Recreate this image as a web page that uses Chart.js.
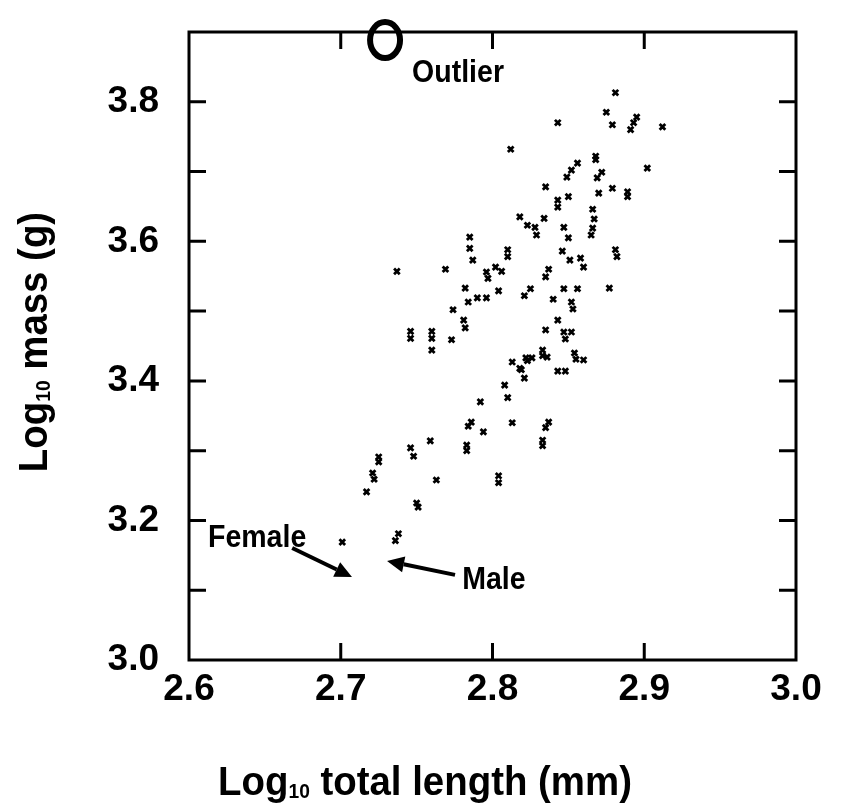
<!DOCTYPE html>
<html lang="en">
<head>
  <meta charset="UTF-8" />
  <title>Log mass vs log total length</title>
  <script src="https://cdn.jsdelivr.net/npm/chart.js"></script>
  <style>
    html, body { margin: 0; padding: 0; background: #fff; }
    #wrap { width: 850px; height: 810px; }
  </style>
</head>
<body>
  <div id="wrap"><canvas id="massChart"></canvas></div>

  <script>
    // log10 total length (mm) and log10 mass (g)
    const lengthLog = [
      2.812, 2.818, 2.785, 2.785, 2.787, 2.810, 2.810, 2.802, 2.806, 2.796,
      2.797, 2.769, 2.737, 2.782, 2.804, 2.790, 2.796, 2.784, 2.774,
      2.881, 2.875, 2.879, 2.895, 2.893, 2.891, 2.912, 2.843, 2.868, 2.868,
      2.856, 2.852, 2.849, 2.872, 2.869, 2.902, 2.835, 2.879, 2.889, 2.889,
      2.870, 2.850, 2.843, 2.843, 2.866, 2.867, 2.823, 2.828, 2.834, 2.829,
      2.847, 2.850, 2.866, 2.865, 2.881, 2.882, 2.846, 2.851, 2.858, 2.860,
      2.837, 2.835, 2.825, 2.847, 2.856, 2.877, 2.852, 2.853, 2.821, 2.840,
      2.781, 2.782, 2.746, 2.746, 2.760, 2.760, 2.773, 2.760, 2.813, 2.818,
      2.808, 2.810, 2.792, 2.813, 2.786, 2.784, 2.794, 2.759, 2.783, 2.783,
      2.746, 2.748, 2.725, 2.725, 2.721, 2.722, 2.763, 2.804, 2.804, 2.717,
      2.750, 2.751, 2.738, 2.736, 2.701,
      2.843, 2.835, 2.847, 2.852, 2.848, 2.833, 2.833, 2.836, 2.822, 2.826,
      2.823, 2.819, 2.821, 2.854, 2.855, 2.860, 2.843, 2.848, 2.837, 2.835,
      2.833, 2.833
    ];
    const massLog = [
      3.732, 3.635, 3.606, 3.590, 3.573, 3.588, 3.578, 3.563, 3.557, 3.556,
      3.547, 3.560, 3.557, 3.533, 3.529, 3.519, 3.519, 3.513, 3.502,
      3.813, 3.785, 3.767, 3.778, 3.770, 3.760, 3.764, 3.770, 3.722, 3.717,
      3.712, 3.702, 3.692, 3.699, 3.691, 3.705, 3.678, 3.676, 3.671, 3.664,
      3.669, 3.664, 3.659, 3.649, 3.646, 3.632, 3.623, 3.620, 3.633, 3.609,
      3.620, 3.605, 3.619, 3.609, 3.588, 3.578, 3.586, 3.573, 3.576, 3.563,
      3.560, 3.549, 3.532, 3.532, 3.532, 3.533, 3.513, 3.503, 3.522, 3.517,
      3.487, 3.476, 3.471, 3.461, 3.471, 3.461, 3.459, 3.444, 3.427, 3.418,
      3.394, 3.376, 3.370, 3.340, 3.341, 3.335, 3.327, 3.314, 3.308, 3.300,
      3.304, 3.292, 3.291, 3.284, 3.268, 3.259, 3.258, 3.264, 3.254, 3.241,
      3.225, 3.219, 3.181, 3.171, 3.169,
      3.487, 3.473, 3.470, 3.470, 3.460, 3.444, 3.436, 3.434, 3.433, 3.433,
      3.429, 3.416, 3.404, 3.440, 3.431, 3.430, 3.414, 3.414, 3.341, 3.333,
      3.315, 3.307
    ];

    const xTicks = [2.6, 2.7, 2.8, 2.9, 3.0];
    const yTicks = [3.0, 3.2, 3.4, 3.6, 3.8];
    const xMinor = [2.7, 2.8, 2.9];
    const yMinor = [3.1, 3.2, 3.3, 3.4, 3.5, 3.6, 3.7, 3.8];

    // annotation anchors in data units
    const outlierMark = { x: 2.7292, y: 3.8885 };
    const outlierLabel = { x: 2.747, y: 3.828, text: "Outlier" };
    const femaleLabel = { x: 2.6125, y: 3.162, text: "Female" };
    const maleLabel = { x: 2.780, y: 3.102, text: "Male" };
    const femaleArrow = { from: [2.668, 3.1605], to: [2.7074, 3.119] };
    const maleArrow = { from: [2.7753, 3.122], to: [2.7305, 3.142] };

    const points = lengthLog.map((x, i) => ({ x: x, y: massLog[i] }));

    const FONT = "'Liberation Sans', Arial, sans-serif";

    function drawArrow(ctx, x1, y1, x2, y2) {
      const ang = Math.atan2(y2 - y1, x2 - x1);
      const head = 17, half = 8;
      const bx = x2 - head * Math.cos(ang), by = y2 - head * Math.sin(ang);
      ctx.beginPath();
      ctx.moveTo(x1, y1);
      ctx.lineTo(bx, by);
      ctx.lineWidth = 4;
      ctx.stroke();
      ctx.beginPath();
      ctx.moveTo(x2, y2);
      ctx.lineTo(bx + half * Math.sin(ang), by - half * Math.cos(ang));
      ctx.lineTo(bx - half * Math.sin(ang), by + half * Math.cos(ang));
      ctx.closePath();
      ctx.fill();
    }

    // condensed bold text with a subscript "10" after "Log"
    function drawLogText(ctx, rest, size, cx, cy) {
      const squeeze = 0.96;
      const big = "bold " + size + "px " + FONT;
      const small = "bold " + Math.round(size * 0.5) + "px " + FONT;
      ctx.font = big;
      const wLog = ctx.measureText("Log").width;
      const wRest = ctx.measureText(rest).width;
      ctx.font = small;
      const wSub = ctx.measureText("10").width;
      const total = (wLog + wSub + wRest) * squeeze;
      ctx.save();
      ctx.translate(cx - total / 2, cy);
      ctx.scale(squeeze, 1);
      ctx.textBaseline = "alphabetic";
      ctx.textAlign = "left";
      ctx.font = big;
      ctx.fillText("Log", 0, 0);
      ctx.font = small;
      ctx.fillText("10", wLog, size * 0.08);
      ctx.font = big;
      ctx.fillText(rest, wLog + wSub, 0);
      ctx.restore();
    }

    const framePlugin = {
      id: "frame",
      afterDraw(chart) {
        const { ctx, chartArea: a, scales } = chart;
        const xs = scales.x, ys = scales.y;
        ctx.save();
        ctx.strokeStyle = "#000";
        ctx.fillStyle = "#000";

        // box
        ctx.lineWidth = 3;
        ctx.strokeRect(a.left, a.top, a.right - a.left, a.bottom - a.top);

        // inward ticks
        const tl = 17;
        ctx.beginPath();
        yMinor.forEach(v => {
          const py = ys.getPixelForValue(v);
          ctx.moveTo(a.left, py); ctx.lineTo(a.left + tl, py);
          ctx.moveTo(a.right, py); ctx.lineTo(a.right - tl, py);
        });
        xMinor.forEach(v => {
          const px = xs.getPixelForValue(v);
          ctx.moveTo(px, a.bottom); ctx.lineTo(px, a.bottom - tl);
          ctx.moveTo(px, a.top); ctx.lineTo(px, a.top + tl);
        });
        ctx.stroke();

        // outlier ring
        ctx.lineWidth = 6;
        ctx.beginPath();
        ctx.ellipse(xs.getPixelForValue(outlierMark.x), ys.getPixelForValue(outlierMark.y), 15, 18, 0, 0, Math.PI * 2);
        ctx.stroke();

        // labels
        [outlierLabel, femaleLabel, maleLabel].forEach(l => {
          ctx.save();
          ctx.translate(xs.getPixelForValue(l.x), ys.getPixelForValue(l.y));
          ctx.scale(0.92, 1);
          ctx.textAlign = "left";
          ctx.textBaseline = "alphabetic";
          ctx.font = "bold 31px " + FONT;
          ctx.fillText(l.text, 0, 0);
          ctx.restore();
        });

        // arrows
        [femaleArrow, maleArrow].forEach(ar => {
          drawArrow(ctx,
            xs.getPixelForValue(ar.from[0]), ys.getPixelForValue(ar.from[1]),
            xs.getPixelForValue(ar.to[0]), ys.getPixelForValue(ar.to[1]));
        });

        // axis titles
        drawLogText(ctx, " total length (mm)", 40, chart.width / 2, 795);
        ctx.save();
        ctx.translate(47, 342);
        ctx.rotate(-Math.PI / 2);
        drawLogText(ctx, " mass (g)", 40, 0, 0);
        ctx.restore();

        ctx.restore();
      }
    };

    const tickFont = { family: FONT, size: 37, weight: "bold" };

    new Chart(document.getElementById("massChart"), {
      type: "scatter",
      data: {
        datasets: [{
          label: "specimens",
          data: points,
          pointStyle: "crossRot",
          radius: 4,
          borderWidth: 2.8,
          borderColor: "#000",
          backgroundColor: "#000"
        }]
      },
      options: {
        responsive: true,
        maintainAspectRatio: false,
        animation: false,
        layout: { padding: { top: 32, right: 54, left: 0, bottom: 0 } },
        plugins: { legend: { display: false }, tooltip: { enabled: false } },
        scales: {
          x: {
            type: "linear",
            min: 2.6, max: 3.0,
            afterFit(s) { s.height = 150; s.paddingLeft = 0; s.paddingRight = 0; },
            afterBuildTicks(s) { s.ticks = xTicks.map(v => ({ value: v })); },
            grid: { display: false },
            border: { display: false },
            ticks: {
              autoSkip: false, maxRotation: 0, padding: 0,
              color: "#000", font: tickFont,
              callback: v => v.toFixed(1)
            }
          },
          y: {
            type: "linear",
            min: 3.0, max: 3.9,
            afterFit(s) { s.width = 189; s.paddingTop = 0; s.paddingBottom = 0; },
            afterBuildTicks(s) { s.ticks = yTicks.map(v => ({ value: v })); },
            grid: { display: false },
            border: { display: false },
            ticks: {
              autoSkip: false, padding: 22,
              color: "#000", font: tickFont,
              callback: v => v.toFixed(1)
            }
          }
        }
      },
      plugins: [framePlugin]
    });
  </script>
</body>
</html>
